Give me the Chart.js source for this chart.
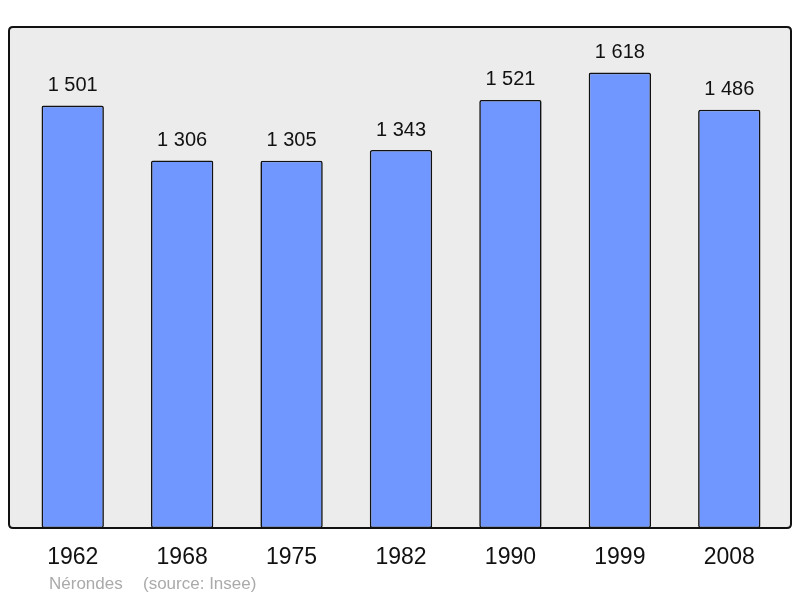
<!DOCTYPE html>
<html><head><meta charset="utf-8">
<script src="https://cdn.jsdelivr.net/npm/chart.js@4.4.0/dist/chart.umd.min.js"></script>
<style>html,body{margin:0;padding:0;background:#fff}#wrap{position:relative;width:800px;height:598px}</style>
</head><body><div id="wrap"><canvas id="c"></canvas></div>
<script>
const years = ["1962","1968","1975","1982","1990","1999","2008"];
const population = [1501,1306,1305,1343,1521,1618,1486];
const valueLabels = ["1 501","1 306","1 305","1 343","1 521","1 618","1 486"];
const footerPlace = "Nérondes";
const footerSource = "(source: Insee)";

const FONT = "'Liberation Sans', Arial, sans-serif";

function rr(ctx,x,y,w,h,r){ctx.beginPath();ctx.moveTo(x+r,y);ctx.lineTo(x+w-r,y);ctx.quadraticCurveTo(x+w,y,x+w,y+r);ctx.lineTo(x+w,y+h-r);ctx.quadraticCurveTo(x+w,y+h,x+w-r,y+h);ctx.lineTo(x+r,y+h);ctx.quadraticCurveTo(x,y+h,x,y+h-r);ctx.lineTo(x,y+r);ctx.quadraticCurveTo(x,y,x+r,y);ctx.closePath();}

const frame = {
  id:'frame',
  beforeDatasetsDraw(chart){
    const a=chart.chartArea, ctx=chart.ctx;
    ctx.save();
    rr(ctx,a.left-9,a.top,a.right-a.left+16,a.bottom-a.top,4);
    ctx.fillStyle='#ececec';ctx.fill();
    ctx.restore();
  },
  afterDatasetsDraw(chart){
    const a=chart.chartArea, ctx=chart.ctx;
    ctx.save();
    rr(ctx,a.left-9,a.top,a.right-a.left+16,a.bottom-a.top,4);
    ctx.lineWidth=2;ctx.strokeStyle='#111';ctx.stroke();
    const meta=chart.getDatasetMeta(0);
    ctx.fillStyle='#111';ctx.font="20px "+FONT;ctx.textAlign='center';ctx.textBaseline='middle';
    meta.data.forEach((b,i)=>{ctx.fillText(valueLabels[i],b.x,b.y-20);});
    ctx.fillStyle='#aaaaaa';ctx.font="17px "+FONT;ctx.textAlign='left';
    ctx.fillText(footerPlace,49,584);
    ctx.fillText(footerSource,143,584);
    ctx.restore();
  }
};

new Chart(document.getElementById('c'),{
  type:'bar',
  data:{labels:years,datasets:[{data:population,backgroundColor:'#7096ff',borderColor:'#111',borderWidth:1.6,borderRadius:2,borderSkipped:false,categoryPercentage:1,barPercentage:0.57}]},
  options:{
    responsive:true,maintainAspectRatio:false,animation:false,
    layout:{padding:{left:18,right:16,top:27,bottom:0}},
    plugins:{legend:{display:false},tooltip:{enabled:false}},
    scales:{
      x:{grid:{display:false,drawTicks:false},border:{display:false},
         ticks:{color:'#111',font:{size:23,family:FONT},padding:16},
         afterFit(s){s.height=70;}},
      y:{display:false,min:0,max:1780}
    }
  },
  plugins:[frame]
});
</script></body></html>
